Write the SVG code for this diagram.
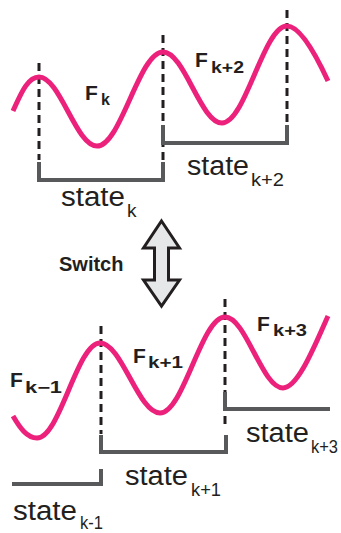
<svg xmlns="http://www.w3.org/2000/svg" width="341" height="533" viewBox="0 0 341 533">
<style>
.wave{fill:none;stroke:#ec217b;stroke-width:5;stroke-linecap:butt}
.dash{fill:none;stroke:#231f20;stroke-width:3;stroke-dasharray:8,5}
.brk{fill:none;stroke:#58595b;stroke-width:4;stroke-linecap:butt;stroke-linejoin:miter}
.F{font-family:"Liberation Sans",Arial,sans-serif;font-weight:bold;font-size:21px;fill:#231f20}
.Fs{font-family:"Liberation Sans",Arial,sans-serif;font-weight:bold;font-size:16px;fill:#231f20}
.st{font-family:"Liberation Sans",Arial,sans-serif;font-size:27px;fill:#231f20}
.sts{font-family:"Liberation Sans",Arial,sans-serif;font-size:19px;fill:#231f20}
.sw{font-family:"Liberation Sans",Arial,sans-serif;font-weight:bold;font-size:20px;fill:#231f20}
</style>
<rect width="341" height="533" fill="#ffffff"/>
<g id="top-panel">
  <g id="top-dashes">
    <line class="dash" x1="39" y1="63" x2="39" y2="160"/>
    <line class="dash" x1="163" y1="35" x2="163" y2="162"/>
    <line class="dash" x1="287" y1="10" x2="287" y2="124"/>
  </g>
  <g id="top-brackets">
    <polyline class="brk" points="39,162 39,180 163,180 163,162"/>
    <polyline class="brk" points="163,125 163,143 287,143 287,125"/>
  </g>
  <path id="wave-top" class="wave" d="M13,111 C20,96 27,77 39,77 C60,77 76,146 97,146 C121,146 139,52 163,52 C184.4,52 200.6,123 222,123 C245.6,123 263.4,26 287,26 C300,26 316,55 328,81"/>
  <g id="label-Fk"><text class="F" x="85" y="100">F</text><text class="Fs" x="101" y="105">k</text></g>
  <g id="label-Fk2"><text class="F" x="195" y="67">F</text><text class="Fs" x="211" y="73" textLength="33" lengthAdjust="spacingAndGlyphs">k+2</text></g>
  <g id="label-statek"><text class="st" x="61" y="206" textLength="64" lengthAdjust="spacingAndGlyphs">state</text><text class="sts" x="127" y="217">k</text></g>
  <g id="label-statek2"><text class="st" x="187" y="175" textLength="62" lengthAdjust="spacingAndGlyphs">state</text><text class="sts" x="251" y="186" textLength="33" lengthAdjust="spacingAndGlyphs">k+2</text></g>
</g>
<g id="switch">
  <polygon points="161.5,221 179.5,248 168.5,248 168.5,280 179.5,280 161.5,306 143.5,280 154.5,280 154.5,248 143.5,248" fill="#e6e7e8" stroke="#231f20" stroke-width="3" stroke-linejoin="miter"/>
  <text class="sw" x="59" y="271">Switch</text>
</g>
<g id="bottom-panel">
  <g id="bottom-dashes">
    <line class="dash" x1="101" y1="326" x2="101" y2="434"/>
    <line class="dash" x1="225" y1="299" x2="225" y2="426"/>
  </g>
  <g id="bottom-brackets">
    <polyline class="brk" points="101,435 101,452 226,452 226,435"/>
    <polyline class="brk" points="225,392 225,409 330,409"/>
    <polyline class="brk" points="12,484 101,484 101,469"/>
  </g>
  <path id="wave-bottom" class="wave" d="M13,416 C20,428 27,438 37,438 C59.9,438 77.1,343 100,343 C121.8,343 138.2,413 160,413 C183.6,413 201.4,317 225,317 C246,317 262,388 283,388 C298,388 315,345 328,316"/>
  <g id="label-Fkm1"><text class="F" x="10" y="387">F</text><text class="Fs" x="25" y="393" textLength="37" lengthAdjust="spacingAndGlyphs">k−1</text></g>
  <g id="label-Fk1"><text class="F" x="133" y="363">F</text><text class="Fs" x="148" y="368" textLength="35" lengthAdjust="spacingAndGlyphs">k+1</text></g>
  <g id="label-Fk3"><text class="F" x="257" y="331">F</text><text class="Fs" x="273" y="336" textLength="34" lengthAdjust="spacingAndGlyphs">k+3</text></g>
  <g id="label-statek3"><text class="st" x="246" y="442" textLength="63" lengthAdjust="spacingAndGlyphs">state</text><text class="sts" x="311" y="453" textLength="27" lengthAdjust="spacingAndGlyphs">k+3</text></g>
  <g id="label-statek1"><text class="st" x="125" y="485" textLength="63" lengthAdjust="spacingAndGlyphs">state</text><text class="sts" x="191" y="496" textLength="30" lengthAdjust="spacingAndGlyphs">k+1</text></g>
  <g id="label-statekm1"><text class="st" x="13" y="520" textLength="64" lengthAdjust="spacingAndGlyphs">state</text><text class="sts" x="80" y="529" textLength="23" lengthAdjust="spacingAndGlyphs">k-1</text></g>
</g>
</svg>
